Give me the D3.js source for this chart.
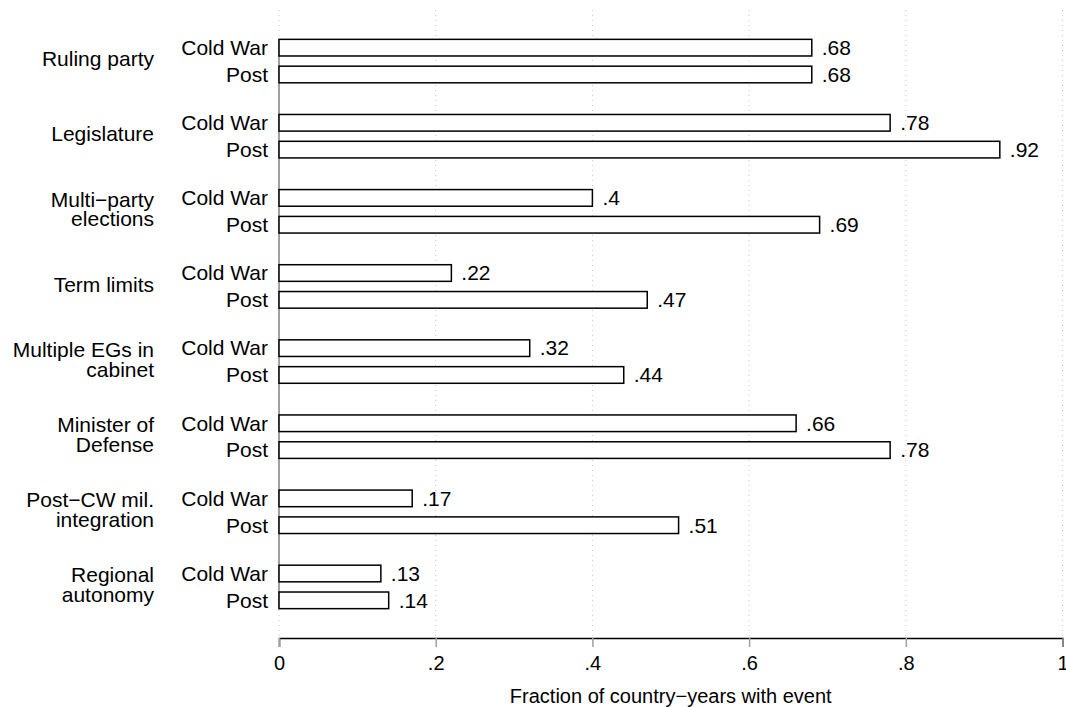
<!DOCTYPE html>
<html>
<head>
<meta charset="utf-8">
<script src="https://cdn.jsdelivr.net/npm/d3@7"></script>
<style>
  body { margin: 0; background: #fff; }
  svg { display: block; font-family: "Liberation Sans", Arial, sans-serif; }
</style>
</head>
<body>
<div id="chart"></div>
<script>
// data
const groups = [
  ['Ruling party'],
  ['Legislature'],
  ['Multi\u2212party', 'elections'],
  ['Term limits'],
  ['Multiple EGs in', 'cabinet'],
  ['Minister of', 'Defense'],
  ['Post\u2212CW mil.', 'integration'],
  ['Regional', 'autonomy']
];
const periods = ['Cold War', 'Post'];
const coldWar = [0.68, 0.78, 0.40, 0.22, 0.32, 0.66, 0.17, 0.13];
const post    = [0.68, 0.92, 0.69, 0.47, 0.44, 0.78, 0.51, 0.14];
const tickValues = [0, 0.2, 0.4, 0.6, 0.8, 1];
const tickLabels = ['0', '.2', '.4', '.6', '.8', '1'];
const valueLabels = {
  'Cold War': ['.68', '.78', '.4', '.22', '.32', '.66', '.17', '.13'],
  'Post':     ['.68', '.92', '.69', '.47', '.44', '.78', '.51', '.14']
};
const xTitle = 'Fraction of country\u2212years with event';

const width = 1066, height = 707;
const margin = { top: 10, right: 3, bottom: 69, left: 279 };
const fs = 21;

const svg = d3.select('#chart').append('svg')
  .attr('width', width)
  .attr('height', height);

const x = d3.scaleLinear()
  .domain([0, 1])
  .range([margin.left, width - margin.right - 0.5]);

const y = d3.scaleBand()
  .domain(d3.range(groups.length))
  .range([margin.top, height - margin.bottom])
  .paddingInner(0.3)
  .paddingOuter(0.33);

const yInner = d3.scaleBand()
  .domain(periods)
  .range([0, y.bandwidth()])
  .paddingInner(0.38)
  .paddingOuter(0.17);

const rows = [];
groups.forEach((g, i) => {
  rows.push({ group: i, period: 'Cold War', value: coldWar[i], label: valueLabels['Cold War'][i] });
  rows.push({ group: i, period: 'Post', value: post[i], label: valueLabels['Post'][i] });
});

// grid lines
svg.append('g')
  .selectAll('line')
  .data(tickValues)
  .join('line')
  .attr('x1', d => x(d))
  .attr('x2', d => x(d))
  .attr('y1', margin.top)
  .attr('y2', height - margin.bottom)
  .attr('stroke', '#c8c8c8')
  .attr('stroke-width', 1)
  .attr('stroke-dasharray', '1,4');

// category axis line
const barTop = y(0) + yInner('Cold War');
const barBottom = y(groups.length - 1) + yInner('Post') + yInner.bandwidth();
svg.append('line')
  .attr('x1', x(0)).attr('x2', x(0))
  .attr('y1', barTop).attr('y2', barBottom)
  .attr('stroke', '#a0a0a0')
  .attr('stroke-width', 2);

// bars
svg.append('g')
  .selectAll('rect')
  .data(rows)
  .join('rect')
  .attr('x', x(0))
  .attr('y', d => y(d.group) + yInner(d.period))
  .attr('width', d => x(d.value) - x(0))
  .attr('height', yInner.bandwidth())
  .attr('fill', '#fff')
  .attr('stroke', '#000')
  .attr('stroke-width', 1.5);

// value labels
svg.append('g')
  .selectAll('text')
  .data(rows)
  .join('text')
  .attr('x', d => x(d.value) + 10)
  .attr('y', d => y(d.group) + yInner(d.period) + yInner.bandwidth() / 2)
  .attr('dy', '0.35em')
  .style('font-size', fs + 'px')
  .text(d => d.label);

// period labels
svg.append('g')
  .selectAll('text')
  .data(rows)
  .join('text')
  .attr('x', x(0) - 11)
  .attr('y', d => y(d.group) + yInner(d.period) + yInner.bandwidth() / 2)
  .attr('dy', '0.35em')
  .attr('text-anchor', 'end')
  .style('font-size', fs + 'px')
  .text(d => d.period);

// group labels (one or two lines, centred on the pair of bars)
const gl = svg.append('g')
  .selectAll('text')
  .data(groups)
  .join('text')
  .attr('text-anchor', 'end')
  .style('font-size', fs + 'px')
  .attr('y', (d, i) => y(i) + y.bandwidth() / 2);

gl.selectAll('tspan')
  .data(d => d.map((t, j) => ({ t, j, n: d.length })))
  .join('tspan')
  .attr('x', 154)
  .attr('dy', d => d.j === 0 ? (0.25 - (d.n - 1) * 0.47) + 'em' : '0.94em')
  .text(d => d.t);

// x axis
const axis = svg.append('g')
  .attr('transform', `translate(0,${height - margin.bottom})`)
  .call(d3.axisBottom(x)
    .tickValues(tickValues)
    .tickFormat((d, i) => tickLabels[i])
    .tickSize(9)
    .tickPadding(9));

axis.select('.domain')
  .attr('stroke', '#000')
  .attr('stroke-width', 1.5);
axis.selectAll('.tick line')
  .attr('stroke', '#a0a0a0')
  .attr('stroke-width', 1.5);
axis.selectAll('.tick text')
  .attr('fill', '#000')
  .style('font-size', '20px')
  .style('font-family', '"Liberation Sans", Arial, sans-serif');

svg.append('text')
  .attr('x', (x(0) + x(1)) / 2)
  .attr('y', height - 4)
  .attr('text-anchor', 'middle')
  .style('font-size', '20px')
  .text(xTitle);
</script>
</body>
</html>
